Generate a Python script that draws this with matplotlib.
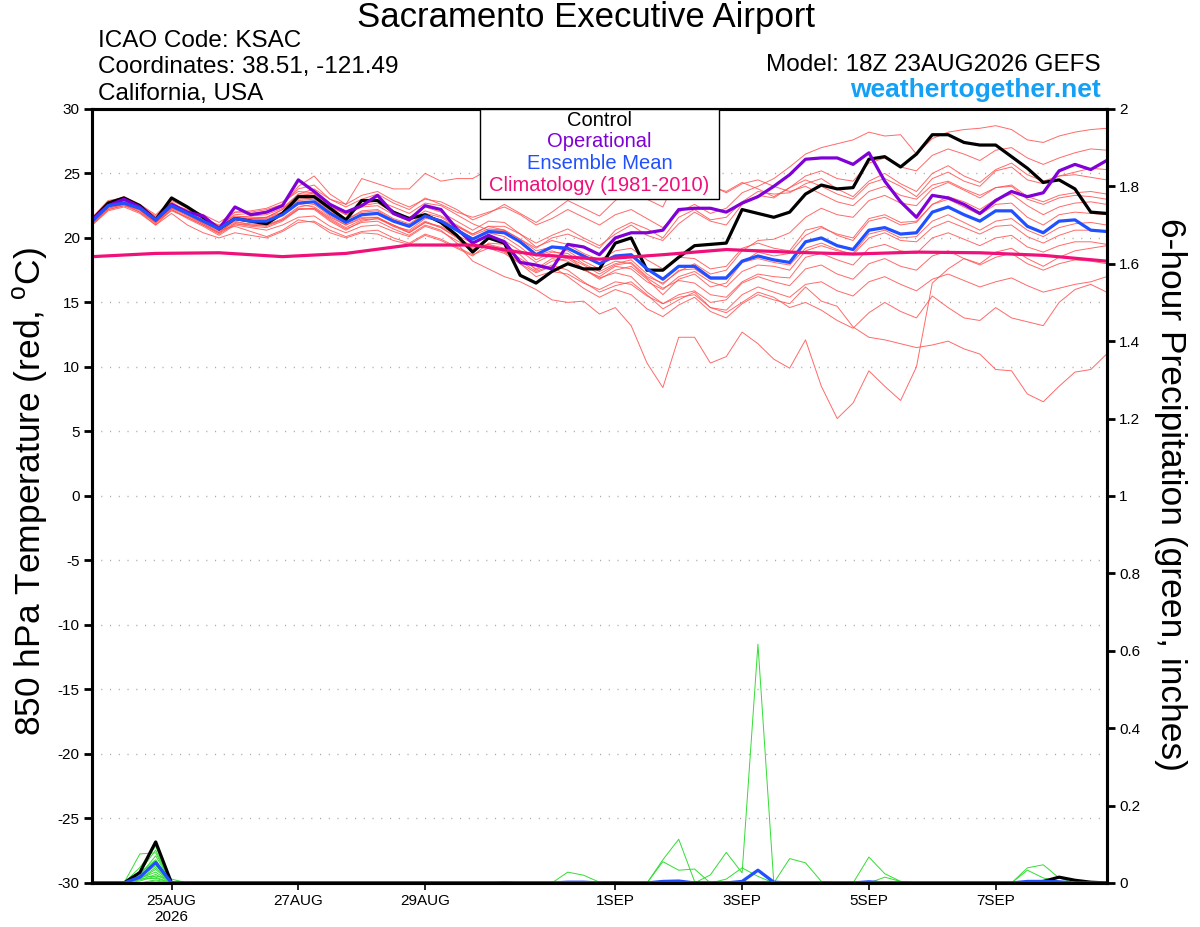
import numpy as np
import pandas as pd
import matplotlib
matplotlib.use('Agg')
import matplotlib.pyplot as plt
from matplotlib.patches import Rectangle

plt.rcParams['font.family'] = ['Liberation Sans', 'DejaVu Sans']
plt.rcParams['axes.unicode_minus'] = False
plt.rcParams['mathtext.fontset'] = 'custom'
plt.rcParams['mathtext.rm'] = 'Liberation Sans'

# 6-hourly forecast steps from the 18Z 23AUG2026 run
times = pd.date_range('2026-08-23 18:00', periods=65, freq='6h')
clim_times = times[::4]

tick_dates = pd.to_datetime(['2026-08-25', '2026-08-27', '2026-08-29', '2026-09-01',
                             '2026-09-03', '2026-09-05', '2026-09-07'])
tick_labels = ['25AUG\n2026', '27AUG', '29AUG', '1SEP', '3SEP', '5SEP', '7SEP']

# 850 hPa temperature (C)
control = [21.4, 22.7, 23.1, 22.5, 21.4, 23.1, 22.4, 21.6, 20.7, 21.5, 21.3, 21.1, 21.9,
           23.2, 23.2, 22.3, 21.4, 22.9, 22.9, 22.0, 21.5, 21.8, 21.2, 20.2, 18.9,
           20.0, 19.6, 17.1, 16.5, 17.4, 18.0, 17.6, 17.6, 19.6, 20.0, 17.5, 17.5, 18.5, 19.4,
           19.5, 19.6, 22.2, 21.9, 21.6, 22.0,
           23.4, 24.1, 23.8, 23.9, 26.1, 26.3, 25.5, 26.5, 28.0, 28.0, 27.4, 27.2, 27.2, 26.3,
           25.4, 24.3, 24.5, 23.8, 22.0, 21.9]
operational = [21.4, 22.5, 23.0, 22.4, 21.4, 22.6, 22.0, 21.7, 20.7, 22.4, 21.8, 22.0, 22.5,
               24.5, 23.6, 22.6, 22.0, 22.5, 23.3, 21.9, 21.4, 22.5, 22.2, 20.7, 19.6,
               20.2, 19.7, 18.1, 17.9, 17.6, 19.5, 19.3, 18.7, 20.0, 20.4, 20.4, 20.6, 22.2, 22.3,
               22.3, 22.0, 22.7, 23.2, 24.0, 24.9,
               26.1, 26.2, 26.2, 25.7, 26.6, 24.4, 22.8, 21.6, 23.3, 23.1, 22.6, 21.9, 22.9, 23.6,
               23.2, 23.5, 25.2, 25.7, 25.3, 26.0]
ens_mean = [21.3, 22.5, 22.7, 22.3, 21.4, 22.5, 21.9, 21.3, 20.7, 21.5, 21.3, 21.3, 21.8,
            22.7, 22.8, 21.9, 21.2, 21.8, 21.9, 21.3, 20.9, 21.7, 21.3, 20.6, 19.9,
            20.5, 20.4, 19.7, 18.7, 19.3, 19.2, 18.6, 18.0, 18.6, 18.7, 17.6, 16.8, 17.8, 17.8,
            16.9, 16.9, 18.2, 18.6, 18.3, 18.1,
            19.7, 20.0, 19.4, 19.1, 20.6, 20.8, 20.3, 20.4, 22.0, 22.4, 21.8, 21.3, 22.1, 22.1,
            20.9, 20.4, 21.3, 21.4, 20.6, 20.5]
climatology = [18.55, 18.8, 18.85, 18.55, 18.8, 19.45, 19.45, 18.7, 18.35, 18.7, 19.1,
               18.9, 18.75, 18.9, 18.85, 18.65, 18.2]

# ensemble members (850 hPa temperature, C)
t01 = [21.5, 22.8, 23.2, 22.6, 21.8, 22.9, 22.3, 21.8, 21.2, 22.0, 22.0, 22.2, 22.6, 23.8, 24.1, 23.0, 22.4, 23.0, 23.4, 22.7, 22.2, 23.1, 22.6, 22.0, 21.6,
       22.0, 22.4, 21.8, 21.0, 21.5, 22.2, 21.6, 21.0, 21.8, 22.2, 21.5, 20.8, 22.0, 22.6, 21.9, 22.3, 23.5, 24.0, 24.6, 25.5,
       26.5, 27.0, 27.3, 27.6, 28.2, 27.9, 28.0, 26.5, 27.7, 28.2, 28.4, 28.5, 28.7, 28.4, 27.6, 27.4, 27.9, 28.2, 28.4, 28.5]
t02 = [21.2, 22.6, 23.0, 22.4, 21.6, 22.7, 22.1, 21.5, 21.0, 21.7, 21.6, 21.6, 22.2, 23.4, 23.4, 22.4, 21.8, 22.5, 22.7, 22.0, 21.6, 22.4, 22.0, 21.3, 20.6,
       21.3, 21.2, 20.3, 19.6, 20.2, 20.7, 20.0, 19.4, 20.3, 21.0, 20.2, 19.8, 21.1, 22.0, 21.3, 21.0, 22.6, 23.3, 23.1, 23.9,
       24.8, 25.2, 24.6, 24.4, 25.8, 26.2, 25.5, 25.2, 26.4, 26.9, 26.5, 26.0, 26.8, 27.0, 26.2, 25.7, 26.2, 26.6, 26.9, 26.8]
t03 = [21.4, 22.4, 22.8, 22.5, 21.5, 22.3, 22.0, 21.6, 20.9, 21.8, 21.9, 22.0, 22.5, 24.0, 24.8, 23.4, 22.6, 23.3, 23.6, 22.9, 22.4, 23.0, 22.8, 22.2, 21.4,
       21.9, 22.6, 21.9, 21.2, 22.0, 22.9, 22.3, 21.7, 22.9, 23.8, 23.0, 22.4, 25.0, 24.9, 24.0, 23.6, 24.3, 23.8, 23.2, 23.9,
       24.5, 24.0, 23.4, 23.0, 24.2, 24.6, 24.0, 23.2, 24.6, 25.1, 24.4, 24.0, 25.2, 25.5, 24.5, 24.2, 24.8, 25.1, 25.4, 25.3]
t04 = [21.1, 22.2, 22.5, 22.0, 21.2, 22.1, 21.6, 21.0, 20.4, 21.1, 21.0, 20.9, 21.4, 22.2, 22.3, 21.5, 20.8, 21.4, 21.5, 21.0, 20.4, 21.2, 20.9, 20.2, 19.6,
       20.1, 19.8, 19.0, 18.1, 18.7, 18.5, 17.9, 17.2, 17.9, 18.1, 17.0, 16.5, 17.4, 18.0, 17.2, 17.5, 19.0, 19.8, 19.9, 20.4,
       21.6, 22.3, 21.8, 21.6, 22.9, 23.3, 22.7, 22.5, 23.8, 24.3, 23.7, 23.1, 23.9, 24.1, 23.2, 22.8, 23.3, 23.5, 23.6, 23.4]
t05 = [21.6, 22.9, 23.1, 22.5, 21.7, 22.8, 22.0, 21.2, 20.6, 20.9, 20.5, 20.1, 20.6, 21.4, 21.2, 20.4, 20.0, 20.4, 20.3, 19.8, 19.5, 20.2, 19.8, 19.2, 18.6,
       19.6, 19.5, 18.7, 17.5, 18.2, 18.4, 17.6, 16.8, 17.5, 17.8, 16.8, 15.6, 16.8, 17.2, 16.2, 16.5, 18.1, 18.9, 18.6, 18.8,
       20.2, 20.8, 20.3, 20.0, 21.5, 21.8, 21.2, 21.3, 22.6, 23.2, 22.8, 22.2, 23.0, 23.4, 22.5, 21.8, 22.4, 22.7, 22.8, 22.6]
t06 = [21.2, 22.3, 22.6, 22.2, 21.1, 22.4, 21.8, 21.1, 20.4, 21.4, 21.5, 21.6, 22.0, 22.6, 22.4, 21.6, 21.0, 21.5, 21.6, 20.9, 20.6, 21.5, 21.4, 20.9, 20.3,
       20.9, 20.9, 20.3, 19.3, 19.8, 19.5, 18.8, 18.3, 19.0, 19.2, 18.3, 17.6, 18.5, 18.4, 17.6, 17.8, 19.2, 19.6, 19.2, 19.0,
       20.6, 20.9, 20.2, 19.8, 21.3, 21.6, 21.0, 21.2, 22.6, 23.0, 22.4, 21.8, 22.6, 22.7, 21.6, 21.0, 21.8, 22.0, 21.9, 21.8]
t07 = [21.3, 22.5, 22.6, 22.0, 21.0, 22.2, 21.5, 20.9, 20.2, 21.0, 20.8, 20.6, 21.0, 21.6, 21.7, 20.9, 20.4, 20.9, 21.0, 20.5, 20.1, 20.9, 20.5, 19.8, 19.1,
       19.5, 19.2, 18.4, 17.6, 18.4, 18.2, 17.5, 17.0, 17.8, 17.6, 16.6, 16.0, 17.0, 17.4, 16.6, 16.2, 17.4, 17.9, 17.8, 17.5,
       19.0, 19.4, 19.0, 18.8, 20.3, 20.6, 20.0, 20.1, 21.3, 21.8, 21.2, 20.6, 21.3, 21.5, 20.6, 20.1, 20.8, 21.1, 21.2, 21.0]
t08 = [21.4, 22.7, 22.9, 22.3, 21.3, 22.6, 22.2, 21.6, 20.9, 21.6, 21.4, 21.4, 22.0, 23.0, 23.1, 22.1, 21.4, 22.1, 22.2, 21.5, 21.1, 21.9, 21.6, 20.9, 20.2,
       20.7, 20.6, 19.9, 19.0, 19.3, 19.0, 18.2, 17.6, 18.2, 18.0, 16.9, 16.1, 16.7, 16.5, 15.6, 15.4, 16.6, 17.2, 17.0, 16.9,
       18.5, 18.8, 18.3, 17.9, 19.2, 19.5, 19.0, 18.8, 20.0, 20.4, 19.9, 19.4, 20.0, 20.2, 19.3, 18.9, 19.4, 19.7, 19.7, 19.5]
t09 = [21.0, 22.1, 22.4, 21.9, 21.0, 21.9, 21.0, 20.4, 20.0, 20.4, 20.2, 20.0, 20.5, 21.2, 21.3, 20.6, 20.1, 20.5, 20.6, 20.0, 19.6, 20.3, 19.9, 19.3, 18.7,
       19.2, 18.8, 18.0, 17.0, 17.4, 17.2, 16.5, 16.0, 16.6, 16.4, 15.5, 14.9, 15.6, 15.9, 15.0, 15.2, 16.5, 17.0, 16.6, 16.3,
       17.6, 17.9, 17.2, 16.8, 18.0, 18.4, 17.8, 17.5, 18.6, 19.0, 18.4, 17.9, 18.5, 18.8, 18.0, 17.5, 18.0, 18.3, 18.2, 18.0]
t10 = [21.5, 22.6, 22.8, 22.4, 21.5, 22.7, 22.1, 21.5, 20.9, 21.6, 21.5, 21.6, 22.2, 23.2, 23.5, 22.5, 21.8, 22.4, 22.5, 21.8, 21.3, 22.1, 21.7, 21.0, 20.3,
       20.9, 20.6, 19.6, 18.6, 19.0, 18.6, 17.6, 16.9, 17.3, 17.0, 15.8, 14.9, 15.4, 15.6, 14.6, 14.4, 15.6, 16.2, 15.8, 15.4,
       16.4, 16.6, 15.9, 15.5, 16.6, 17.0, 16.4, 15.9, 16.8, 17.2, 16.7, 16.2, 16.6, 16.9, 16.3, 15.8, 16.1, 16.4, 16.6, 17.0]
t11 = [21.2, 22.5, 22.9, 22.4, 21.4, 22.4, 21.8, 21.2, 20.6, 21.3, 21.0, 21.0, 21.5, 22.4, 22.6, 21.7, 21.0, 21.6, 21.6, 21.0, 20.5, 21.3, 20.8, 20.1, 19.3,
       19.5, 19.0, 18.0, 17.3, 17.8, 17.0, 16.1, 15.4, 16.0, 15.6, 14.5, 13.9, 14.8, 15.4, 14.3, 13.8, 14.9, 15.6, 15.2, 14.9,
       16.2, 15.1, 14.7, 13.1, 12.3, 12.1, 11.8, 11.5, 11.7, 12.0, 11.4, 11.0, 9.8, 9.7, 7.9, 7.3, 8.5, 9.6, 9.8, 11.0]
t12 = [21.1, 22.3, 22.6, 22.1, 21.2, 22.2, 21.6, 21.0, 20.3, 21.1, 20.9, 20.8, 21.3, 22.2, 22.3, 21.4, 20.7, 21.2, 21.3, 20.7, 20.2, 21.0, 20.6, 19.6, 18.2,
       17.6, 17.0, 16.6, 16.0, 15.2, 15.0, 15.1, 14.1, 14.6, 13.2, 10.3, 8.4, 12.3, 12.3, 10.3, 10.8, 12.7, 11.8, 10.6, 9.9,
       12.1, 8.5, 6.0, 7.2, 9.7, 8.5, 7.4, 10.0, 16.5, 17.6, 18.4, 18.0, 18.9, 19.2, 18.4, 17.8, 18.5, 19.0, 19.2, 19.4]
t13 = [21.3, 22.4, 22.6, 22.2, 21.3, 22.3, 21.7, 21.1, 20.5, 21.2, 21.1, 21.0, 21.4, 22.3, 22.2, 21.3, 20.6, 21.3, 21.5, 20.9, 20.4, 21.2, 20.8, 20.0, 19.2,
       19.4, 18.9, 18.2, 17.4, 17.9, 17.5, 16.6, 15.8, 16.3, 16.6, 15.6, 14.5, 15.2, 15.8, 14.6, 14.2, 15.0, 15.8, 15.4, 14.6,
       15.0, 14.4, 13.6, 13.0, 14.2, 15.0, 14.3, 13.8, 15.5, 14.6, 13.8, 13.6, 14.6, 13.8, 13.5, 13.2, 15.0, 16.0, 16.4, 15.8]
t14 = [21.4, 22.7, 23.1, 22.6, 21.6, 22.6, 22.0, 21.4, 20.8, 21.6, 21.7, 21.8, 22.3, 23.4, 23.8, 23.0, 22.6, 24.6, 24.2, 23.8, 23.8, 25.0, 24.4, 24.6, 24.6,
       25.3, 25.0, 24.5, 24.2, 24.8, 25.3, 24.6, 24.0, 24.8, 25.2, 24.4, 23.9, 24.6, 24.9, 24.1, 23.5, 24.2, 24.5, 24.0, 23.6,
       24.0, 23.4, 22.8, 22.5, 23.6, 24.0, 23.3, 23.0, 24.1, 24.4, 23.8, 23.3, 23.9, 24.0, 23.0, 22.6, 23.1, 23.3, 23.2, 23.0]
t15 = [21.0, 22.2, 22.5, 22.2, 21.3, 22.3, 21.9, 21.4, 20.8, 21.6, 21.5, 21.5, 21.9, 22.9, 23.0, 22.0, 21.4, 22.0, 22.1, 21.4, 21.0, 21.8, 21.4, 20.7, 20.0,
       20.4, 20.1, 19.3, 18.3, 18.9, 18.8, 18.0, 17.4, 18.0, 18.3, 17.2, 16.4, 17.5, 17.6, 16.8, 16.8, 18.1, 18.4, 18.1, 17.9,
       19.2, 19.6, 19.1, 18.7, 20.0, 20.4, 19.8, 19.7, 20.8, 21.3, 20.8, 20.3, 20.9, 21.0, 20.1, 19.6, 20.2, 20.6, 20.6, 20.5]
t16 = [21.3, 22.6, 22.9, 22.4, 21.5, 22.5, 21.9, 21.3, 20.7, 22.0, 22.1, 22.3, 22.8, 23.6, 23.5, 22.6, 21.9, 22.6, 22.9, 22.4, 21.9, 22.7, 22.5, 21.8, 21.1,
       20.6, 20.6, 19.9, 19.2, 20.0, 20.3, 19.8, 19.2, 20.6, 21.2, 20.7, 20.0, 21.6, 22.2, 21.4, 21.6, 22.8, 23.6, 23.4, 23.5,
       24.2, 24.6, 23.8, 23.2, 24.4, 25.0, 24.2, 23.6, 25.0, 25.6, 24.8, 24.3, 25.3, 25.8, 24.9, 24.4, 24.8, 24.9, 24.7, 24.5]

# 6-hour precipitation (inches), {forecast step: amount}, zero elsewhere
pcp_control = {3: 0.027, 4: 0.106, 60: 0.004, 61: 0.015, 62: 0.007, 63: 0.002}
pcp_mean = {3: 0.015, 4: 0.053, 30: 0.002, 31: 0.002, 36: 0.004, 37: 0.005, 41: 0.004,
            42: 0.033, 43: 0.002, 49: 0.003, 59: 0.004, 60: 0.004, 61: 0.003}
p01 = {3: 0.075, 4: 0.078, 39: 0.021, 40: 0.079, 41: 0.026, 42: 0.617}
p02 = {3: 0.04, 4: 0.095}
p03 = {3: 0.03, 4: 0.085, 36: 0.06, 37: 0.113, 38: 0.004}
p04 = {3: 0.02, 4: 0.07}
p05 = {3: 0.025, 4: 0.06, 26: 0.004}
p06 = {3: 0.015, 4: 0.045, 49: 0.067, 50: 0.024, 51: 0.004}
p07 = {3: 0.01, 4: 0.035, 30: 0.028, 31: 0.02, 32: 0.002, 33: 0.004}
p08 = {3: 0.012, 4: 0.028, 36: 0.055, 37: 0.033, 38: 0.036}
p09 = {3: 0.008, 4: 0.022, 50: 0.015, 51: 0.004}
p10 = {3: 0.005, 4: 0.018, 5: 0.01, 59: 0.039, 60: 0.047, 61: 0.013}
p11 = {3: 0.02, 4: 0.015, 40: 0.01, 41: 0.039, 42: 0.017}
p12 = {3: 0.01, 4: 0.012, 44: 0.063, 45: 0.052, 46: 0.004}
p13 = {4: 0.008, 59: 0.033, 60: 0.013, 61: 0.004}
p14 = {3: 0.03, 4: 0.05}
p15 = {4: 0.005}
p16 = {3: 0.01, 4: 0.04}

members_t = [t01, t02, t03, t04, t05, t06, t07, t08, t09, t10, t11, t12, t13, t14, t15, t16]
members_p = [p01, p02, p03, p04, p05, p06, p07, p08, p09, p10, p11, p12, p13, p14, p15, p16]

C_CTRL = '#000000'
C_OPER = '#8000d8'
C_MEAN = '#2050ff'
C_CLIM = '#f0107a'
C_MEMB = '#ff5050'
C_PCP = '#33dd33'


def full_series(sparse):
    """Expand a {step: amount} dict to a value per forecast step."""
    vals = np.zeros(len(times))
    for k, v in sparse.items():
        vals[k] = v
    return vals


fig = plt.figure(figsize=(12, 9.27), dpi=100)
ax = fig.add_axes([0.0769, 0.0475, 0.8453, 0.835])
ax2 = ax.twinx()

for i, m in enumerate(members_t):
    assert len(m) == len(times), (i + 1, len(m))
    ax.plot(times, m, color=C_MEMB, lw=0.7, alpha=0.85, zorder=2)
ax.plot(times, control, color=C_CTRL, lw=2.3, zorder=4)
ax.plot(times, operational, color=C_OPER, lw=2.3, zorder=4)
ax.plot(times, ens_mean, color=C_MEAN, lw=2.3, zorder=5)
ax.plot(clim_times, climatology, color=C_CLIM, lw=2.3, zorder=6)

# precipitation sits under the bottom spine where it is zero
for p in members_p:
    ax2.plot(times, full_series(p), color=C_PCP, lw=0.7, zorder=1)
ax2.plot(times, full_series(pcp_control), color=C_CTRL, lw=2.3, zorder=1.5)
ax2.plot(times, full_series(pcp_mean), color=C_MEAN, lw=2.3, zorder=1.6)

ax.set_xlim(times[0], times[-1])
ax.set_ylim(-30, 30)
ax.set_yticks(range(-30, 31, 5))
ax.set_xticks(tick_dates)
ax.set_xticklabels(tick_labels)
ax.yaxis.grid(True, color='#aaaaaa', linestyle=(0, (0.8, 5.5)), linewidth=1.0)
ax.set_axisbelow(True)
ax.tick_params(axis='y', direction='out', length=6, width=2, labelsize=11, pad=3)
ax.tick_params(axis='x', direction='out', length=5, width=1.2, labelsize=11, pad=3)

ax2.set_ylim(0, 2)
pticks = [0, 0.2, 0.4, 0.6, 0.8, 1, 1.2, 1.4, 1.6, 1.8, 2]
ax2.set_yticks(pticks)
ax2.set_yticklabels(['%g' % v for v in pticks])
ax2.tick_params(axis='y', direction='out', length=6, width=2, labelsize=11, pad=3)

for a in (ax, ax2):
    for s in a.spines.values():
        s.set_linewidth(2.2)
        s.set_color('black')
        s.set_zorder(3)

# legend box
ax2.add_patch(Rectangle((0.3822, 0.8837), 0.2356, 0.1163, transform=ax2.transAxes,
                        facecolor='white', edgecolor='black', lw=1.0, zorder=10, clip_on=False))
leg_items = [('Control', C_CTRL, 0.9845), ('Operational', C_OPER, 0.9574),
             ('Ensemble Mean', C_MEAN, 0.9289), ('Climatology (1981-2010)', C_CLIM, 0.9005)]
for txt, col, yy in leg_items:
    ax2.text(0.5, yy, txt, color=col, fontsize=14.5, ha='center', va='center',
             transform=ax2.transAxes, zorder=11)

# header
W, H = 1200.0, 927.0
fig.text(586 / W, 1 - 18 / H, 'Sacramento Executive Airport', ha='center', va='center', fontsize=25)
fig.text(98 / W, 1 - 41 / H, 'ICAO Code: KSAC', ha='left', va='center', fontsize=17.5)
fig.text(98 / W, 1 - 67 / H, 'Coordinates: 38.51, -121.49', ha='left', va='center', fontsize=17.5)
fig.text(98 / W, 1 - 94 / H, 'California, USA', ha='left', va='center', fontsize=17.5)
fig.text(1101 / W, 1 - 65 / H, 'Model: 18Z 23AUG2026 GEFS', ha='right', va='center', fontsize=17.5)
fig.text(1101 / W, 1 - 90 / H, 'weathertogether.net', ha='right', va='center', fontsize=19,
         fontweight='bold', color='#14a0f5')

fig.text(30 / W, 1 - 492 / H, '850 hPa Temperature (red, $^{\\rm o}$C)', rotation=90,
         ha='center', va='center', fontsize=25.5)
fig.text(1170 / W, 1 - 495 / H, '6-hour Precipitation (green, inches)', rotation=270,
         ha='center', va='center', fontsize=25.5)

fig.savefig('out.png', dpi=100)
